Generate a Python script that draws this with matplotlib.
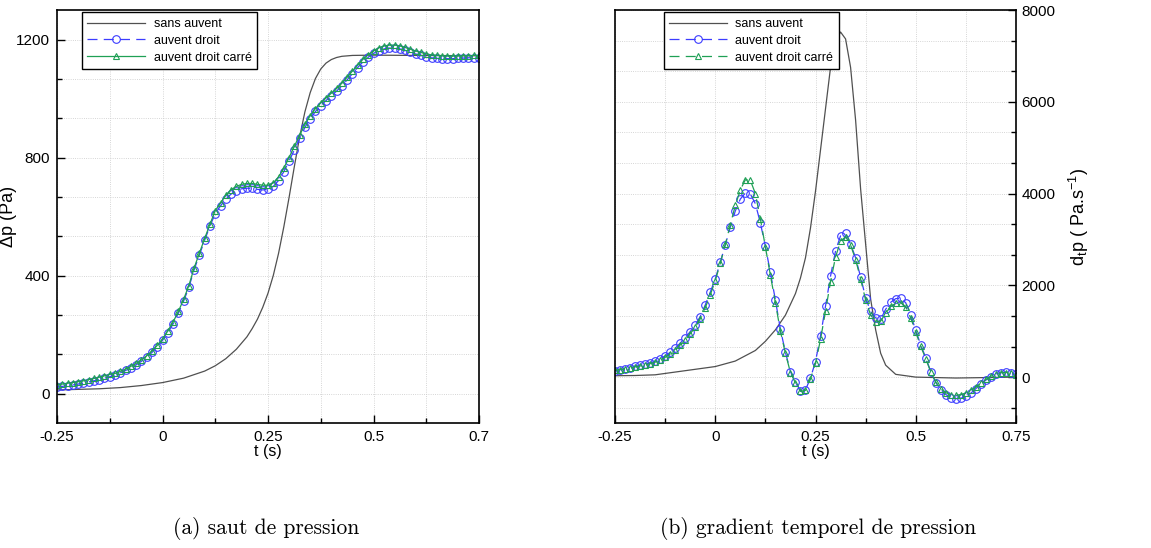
import numpy as np
import matplotlib
matplotlib.use("Agg")
import matplotlib.pyplot as plt
from matplotlib.ticker import MultipleLocator

plt.rcParams["font.family"] = ["Liberation Sans", "DejaVu Sans"]
plt.rcParams["mathtext.fontset"] = "custom"
plt.rcParams["mathtext.rm"] = "Liberation Sans"
plt.rcParams["mathtext.it"] = "Liberation Sans"

# ---- data ----
t_marked = np.linspace(-0.25, 0.75, 81)  # sampling times of the marked series

dp_droit = [22, 24, 27, 29, 32, 35, 39, 43, 47, 52,
            57, 63, 70, 78, 87, 97, 109, 123, 139, 158,
            180, 206, 236, 272, 313, 360, 420, 470, 520, 568,
            610, 636, 659, 676, 687, 694, 696, 695, 692, 690,
            692, 702, 722, 752, 788, 826, 865, 902, 932, 956,
            976, 993, 1009, 1025, 1043, 1063, 1084, 1105, 1124, 1140,
            1153, 1162, 1168, 1171, 1171, 1168, 1163, 1157, 1151, 1146,
            1141, 1138, 1136, 1135, 1135, 1135, 1136, 1137, 1138, 1138,
            1138]
dp_carre = [30, 32, 35, 37, 40, 43, 47, 51, 55, 60,
            65, 68, 75, 83, 92, 102, 114, 128, 144, 163,
            185, 212, 242, 278, 319, 366, 426, 476, 526, 574,
            620, 646, 672, 691, 702, 709, 712, 712, 709, 706,
            706, 714, 734, 764, 800, 838, 876, 912, 942, 966,
            986, 1002, 1018, 1034, 1052, 1072, 1093, 1114, 1133, 1149,
            1161, 1172, 1178, 1181, 1181, 1178, 1173, 1167, 1161, 1156,
            1151, 1148, 1146, 1145, 1144, 1144, 1144, 1145, 1145, 1146,
            1146]

grad_droit = [140, 160, 180, 205, 235, 255, 280, 310, 345, 395,
              460, 540, 630, 740, 860, 990, 1130, 1320, 1570, 1850,
              2140, 2500, 2880, 3270, 3620, 3880, 4010, 3990, 3780, 3360,
              2850, 2280, 1680, 1040, 544, 120, -110, -300, -280, -20,
              340, 900, 1550, 2200, 2750, 3080, 3130, 2900, 2600, 2180,
              1730, 1430, 1290, 1260, 1480, 1630, 1710, 1720, 1620, 1350,
              1020, 700, 420, 120, -120, -270, -380, -445, -470, -460,
              -420, -350, -250, -150, -65, 10, 70, 100, 105, 85,
              60]
grad_carre = [150, 165, 182, 200, 222, 242, 265, 292, 325, 370,
              430, 505, 595, 700, 815, 945, 1085, 1270, 1510, 1790,
              2100, 2480, 2890, 3320, 3740, 4080, 4300, 4290, 4000, 3450,
              2840, 2220, 1620, 1000, 520, 100, -130, -310, -290, -40,
              300, 820, 1440, 2080, 2620, 2960, 3060, 2880, 2560, 2140,
              1680, 1350, 1210, 1220, 1390, 1540, 1610, 1620, 1530, 1290,
              980, 670, 400, 110, -110, -250, -340, -385, -395, -380,
              -350, -290, -215, -130, -50, 20, 70, 95, 100, 80,
              55]

t_sans = [-0.25, -0.2, -0.15, -0.1, -0.05, 0, 0.05, 0.1, 0.125, 0.15,
          0.175, 0.2, 0.2125, 0.225, 0.2375, 0.25, 0.2625, 0.275, 0.2875, 0.3,
          0.3125, 0.325, 0.3375, 0.35, 0.3625, 0.375, 0.3875, 0.4, 0.4125, 0.425,
          0.45, 0.5, 0.6, 0.75]
dp_sans = [12, 14, 16, 20, 27, 37, 52, 76, 94, 118,
           150, 192, 220, 252, 292, 340, 400, 475, 565, 665,
           770, 870, 955, 1020, 1068, 1100, 1120, 1132, 1139, 1143,
           1146, 1147, 1146, 1145]
grad_sans = [30, 35, 50, 110, 170, 230, 350, 580, 780, 1030,
             1350, 1820, 2160, 2600, 3250, 4050, 4950, 5850, 6750, 7330,
             7520, 7370, 6750, 5600, 4100, 2900, 1700, 1030, 520, 260,
             60, 0, -20, 0]

x_ticks = [-0.25, 0, 0.25, 0.5, 0.75]
x_labels_a = ["-0.25", "0", "0.25", "0.5", "0.7"]
x_labels_b = ["-0.25", "0", "0.25", "0.5", "0.75"]
labels = ["sans auvent", "auvent droit", "auvent droit carré"]

C_SANS = "#505050"
C_DROIT = "#3c3cff"
C_CARRE = "#1fa055"

fig = plt.figure(figsize=(11.51, 5.48), dpi=100)
ax1 = fig.add_axes([57 / 1151, 1 - 423 / 548, 422 / 1151, 413 / 548])
ax2 = fig.add_axes([615 / 1151, 1 - 423 / 548, 401 / 1151, 413 / 548])


def style_axis(ax, ylim, ymajor, yminor):
    ax.set_xlim(-0.25, 0.75)
    ax.set_ylim(*ylim)
    ax.set_xticks(x_ticks)
    ax.xaxis.set_minor_locator(MultipleLocator(0.125))
    ax.set_yticks(ymajor)
    ax.yaxis.set_minor_locator(MultipleLocator(yminor))
    ax.grid(which="both", ls=":", color="#c8c8c8", lw=0.6)
    ax.set_axisbelow(True)
    ax.tick_params(which="both", direction="in", width=1.0, labelsize=11)
    ax.tick_params(which="major", length=6, pad=5)
    ax.tick_params(which="minor", length=3.5)
    for s in ax.spines.values():
        s.set_linewidth(1.2)
    ax.set_xlabel("t (s)", fontsize=11.5, labelpad=0)


def draw(ax, y_sans, y_droit, y_carre, carre_ls):
    ax.plot(t_sans, y_sans, color=C_SANS, lw=0.9, label=labels[0])
    ax.plot(t_marked, y_droit, color=C_DROIT, lw=0.9, ls=(0, (8, 5)),
            marker="o", ms=5.5, mfc="none", mec=C_DROIT, mew=0.8, label=labels[1])
    ax.plot(t_marked, y_carre, color=C_CARRE, lw=0.9, ls=carre_ls,
            marker="^", ms=4.5, mfc="none", mec=C_CARRE, mew=0.8, label=labels[2])


def add_legend(ax, x0):
    leg = ax.legend(loc="upper left", bbox_to_anchor=(x0, 0.994), borderaxespad=0,
                    fontsize=9, handlelength=4.6, handletextpad=0.7, labelspacing=0.38,
                    borderpad=0.45, fancybox=False, framealpha=1, numpoints=1)
    leg.get_frame().set_edgecolor("black")
    leg.get_frame().set_linewidth(1.0)


# (a) pressure jump
draw(ax1, dp_sans, dp_droit, dp_carre, "-")
style_axis(ax1, (-100, 1300), [0, 400, 800, 1200], 400 / 3)
ax1.set_xticklabels(x_labels_a)
ax1.set_ylabel("Δp (Pa)", fontsize=13)
ax1.yaxis.set_label_coords((17 - 57) / 422, 0.5)
add_legend(ax1, 0.0585)

# (b) time gradient of pressure
draw(ax2, grad_sans, grad_droit, grad_carre, (0, (8, 5)))
style_axis(ax2, (-1000, 8000), [0, 2000, 4000, 6000, 8000], 2000 / 3)
ax2.set_xticklabels(x_labels_b)
ax2.yaxis.tick_right()
ax2.yaxis.set_label_position("right")
ax2.tick_params(axis="y", which="major", pad=4)
ax2.set_ylabel("d$_\\mathregular{t}$p ( Pa.s$^\\mathregular{-1}$)", fontsize=13,
               rotation=90)
ax2.yaxis.set_label_coords((1067 - 615) / 401, 0.5)
add_legend(ax2, 0.121)

fig.text(266 / 1151, 1 - 528 / 548, "(a) saut de pression", family="cmr10",
         fontsize=15.5, ha="center", va="center")
fig.text(818 / 1151, 1 - 528 / 548, "(b) gradient temporel de pression", family="cmr10",
         fontsize=15.5, ha="center", va="center")

fig.savefig("out.png", dpi=100)
plt.close(fig)
